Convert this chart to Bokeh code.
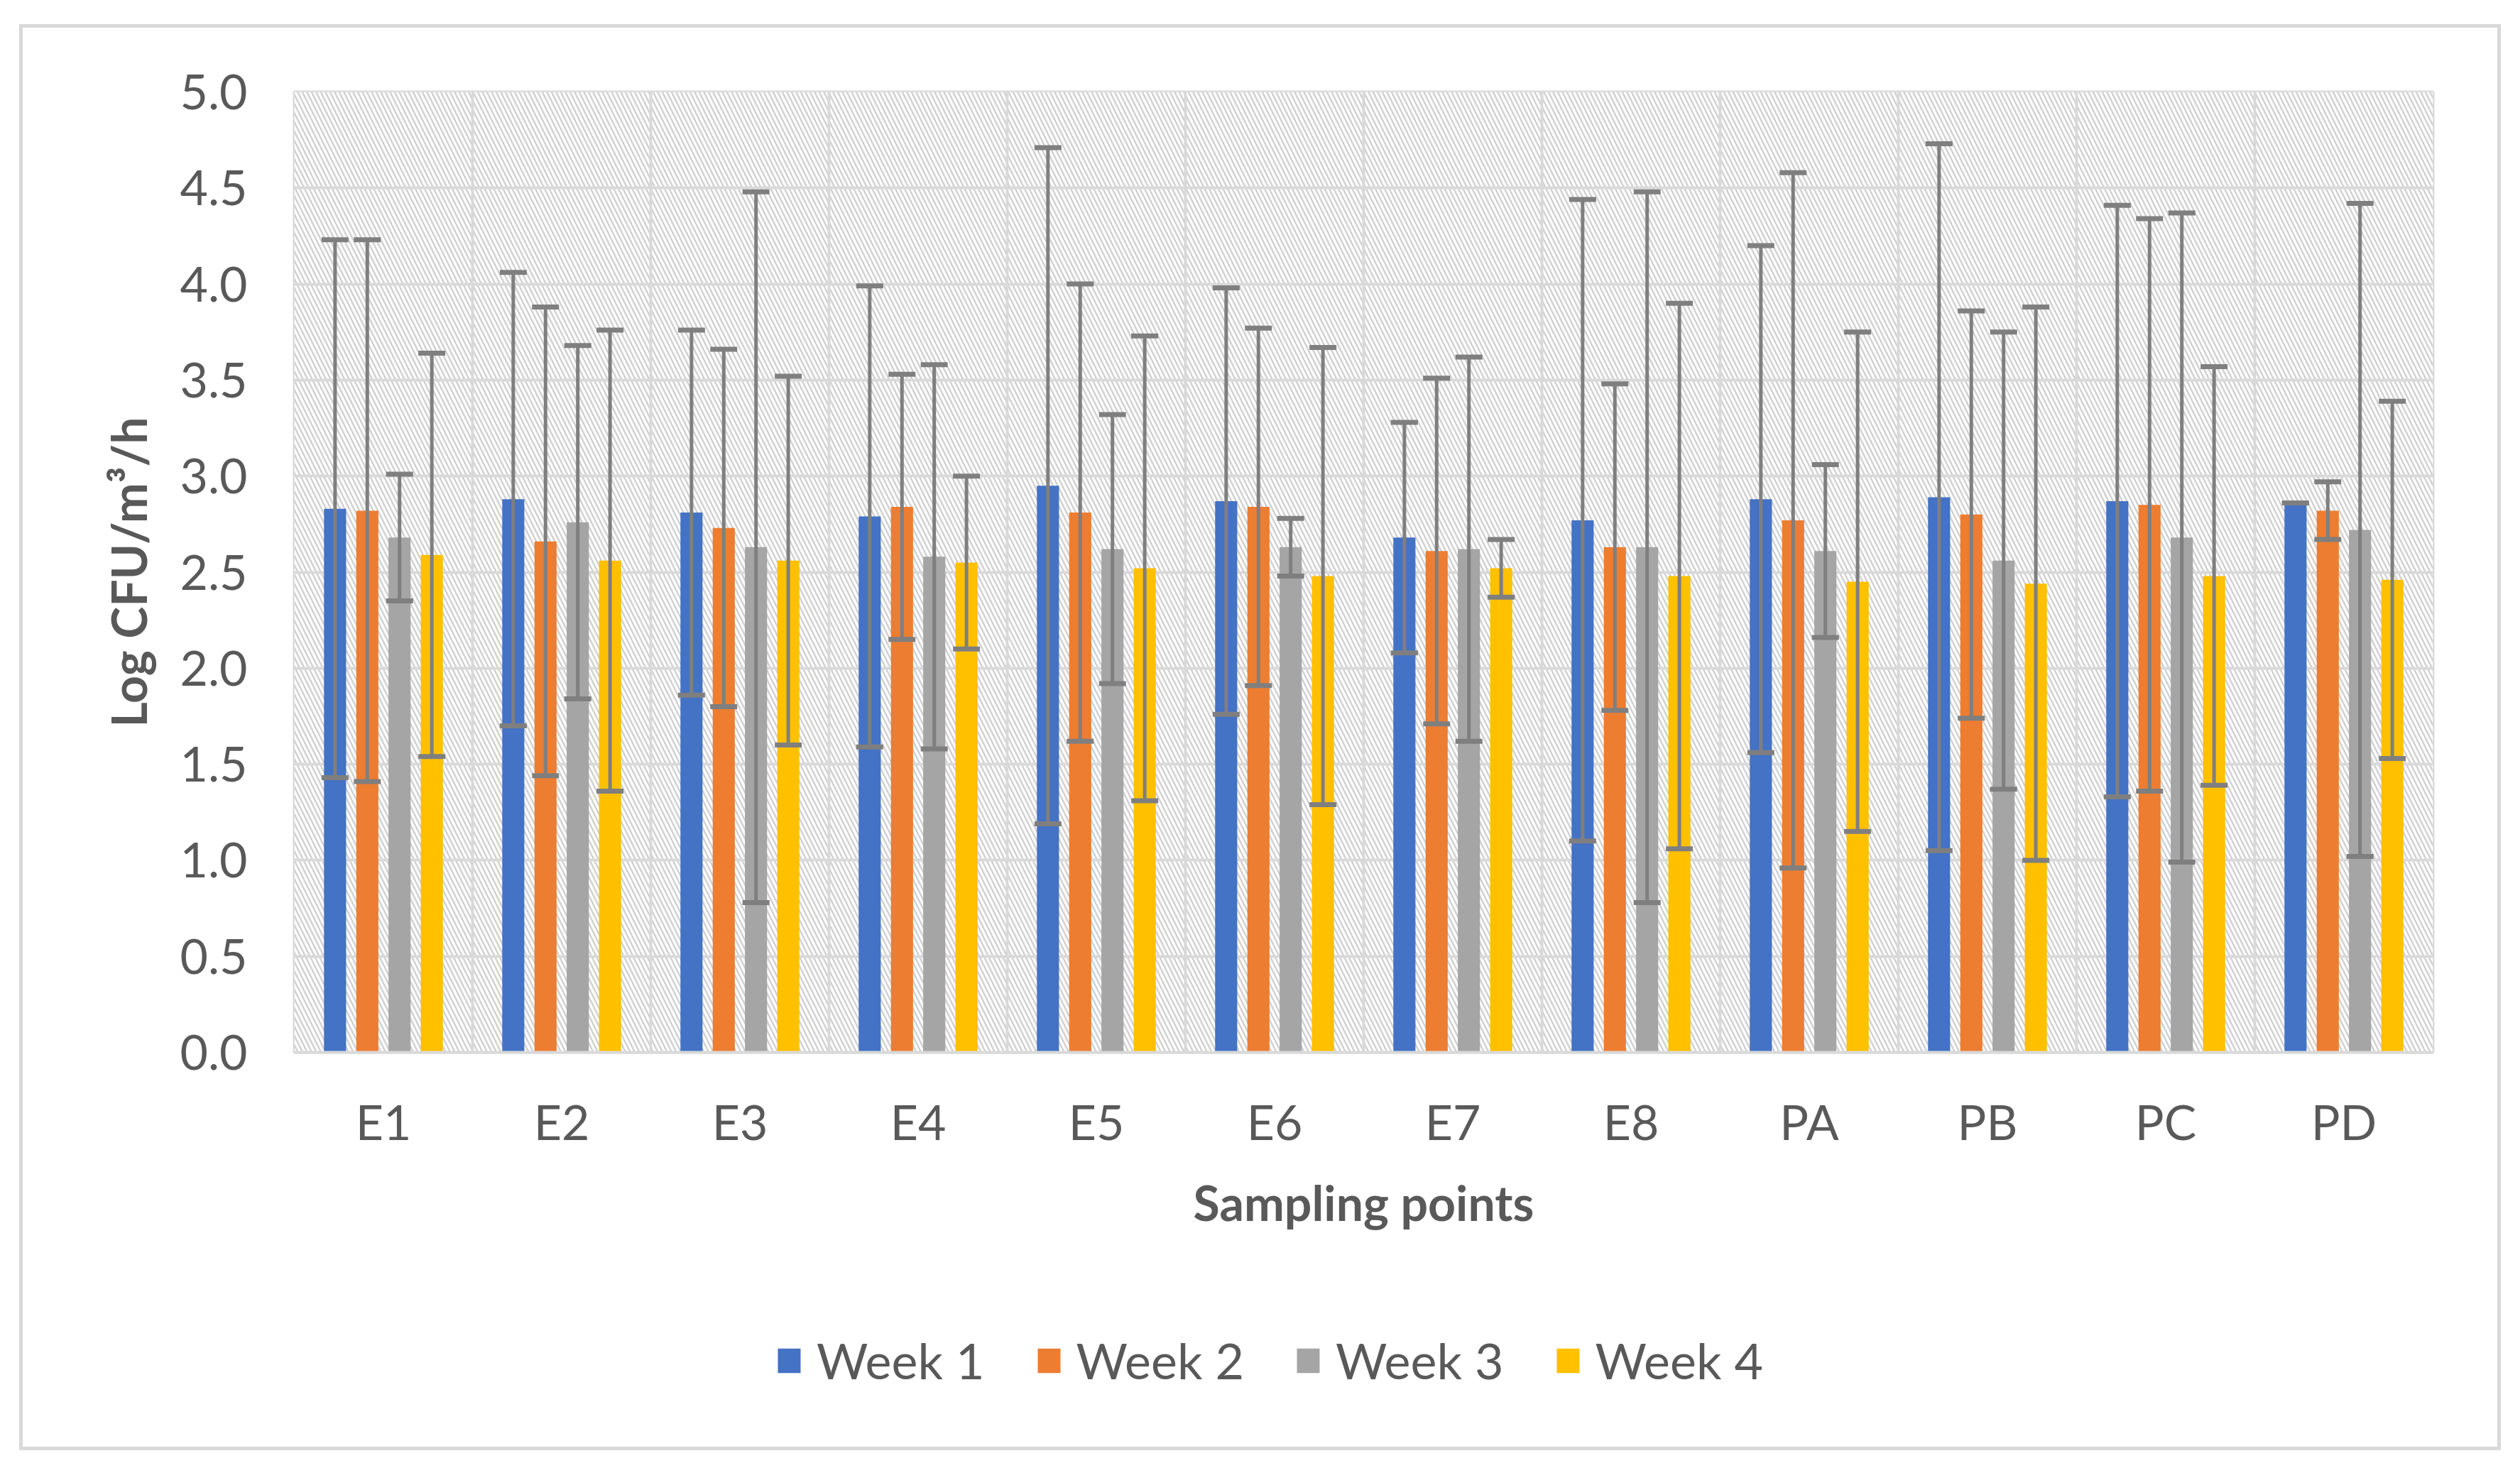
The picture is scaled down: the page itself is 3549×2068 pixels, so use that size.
from bokeh.plotting import figure
from bokeh.models import (ColumnDataSource, FactorRange, Range1d, FixedTicker,
                          Whisker, TeeHead, BoxAnnotation, CustomJSTickFormatter, Legend)
from bokeh.layouts import column
from bokeh.transform import dodge
from bokeh.embed import file_html
from bokeh.resources import INLINE

# ---------------- data ----------------
sampling_points = ["E1", "E2", "E3", "E4", "E5", "E6", "E7", "E8", "PA", "PB", "PC", "PD"]
series_names = ["Week 1", "Week 2", "Week 3", "Week 4"]

week1_mean = [2.83, 2.88, 2.81, 2.79, 2.95, 2.87, 2.68, 2.77, 2.88, 2.89, 2.87, 2.86]
week1_sd   = [1.40, 1.18, 0.95, 1.20, 1.76, 1.11, 0.60, 1.67, 1.32, 1.84, 1.54, 0.00]

week2_mean = [2.82, 2.66, 2.73, 2.84, 2.81, 2.84, 2.61, 2.63, 2.77, 2.80, 2.85, 2.82]
week2_sd   = [1.41, 1.22, 0.93, 0.69, 1.19, 0.93, 0.90, 0.85, 1.81, 1.06, 1.49, 0.15]

week3_mean = [2.68, 2.76, 2.63, 2.58, 2.62, 2.63, 2.62, 2.63, 2.61, 2.56, 2.68, 2.72]
week3_sd   = [0.33, 0.92, 1.85, 1.00, 0.70, 0.15, 1.00, 1.85, 0.45, 1.19, 1.69, 1.70]

week4_mean = [2.59, 2.56, 2.56, 2.55, 2.52, 2.48, 2.52, 2.48, 2.45, 2.44, 2.48, 2.46]
week4_sd   = [1.05, 1.20, 0.96, 0.45, 1.21, 1.19, 0.15, 1.42, 1.30, 1.44, 1.09, 0.93]

y_ticks = [0.0, 0.5, 1.0, 1.5, 2.0, 2.5, 3.0, 3.5, 4.0, 4.5, 5.0]

# ---------------- style ----------------
colors = ["#4472C4", "#ED7D31", "#A5A5A5", "#FFC000"]
offsets = [-0.2715, -0.0905, 0.0905, 0.2715]
FONT = "Lato"
TXT = "#595959"
GRID = "#d9d9d9"
ERR = "#7f7f7f"

W = 3485
H_MAIN = 1800
H_LEG = 199

p = figure(x_range=FactorRange(*sampling_points), y_range=Range1d(0, 5),
           width=W, height=H_MAIN, output_backend="svg", toolbar_location=None,
           min_border_left=382, min_border_right=91,
           min_border_top=90, min_border_bottom=H_MAIN + 39 - 1482)

p.background_fill_color = "white"
p.border_fill_color = "white"
p.outline_line_color = GRID
p.outline_line_width = 4

# hatched plot-area background
hatch = BoxAnnotation(fill_color="white", fill_alpha=1.0, line_alpha=0,
                      hatch_pattern="\\", hatch_color="#cccccc", hatch_alpha=0.9,
                      hatch_scale=13, hatch_weight=2.5, level="image")
p.add_layout(hatch)

# grids
p.ygrid.ticker = FixedTicker(ticks=y_ticks)
p.ygrid.grid_line_color = GRID
p.ygrid.grid_line_width = 4
p.xgrid.ticker = FixedTicker(ticks=list(range(1, len(sampling_points))))
p.xgrid.grid_line_color = GRID
p.xgrid.grid_line_width = 4

# legend strip (separate plot, same width, no axes); its y range keeps the proxy bars out of view
pl = figure(x_range=p.x_range, y_range=Range1d(100, 101),
            width=W, height=H_LEG, output_backend="svg", toolbar_location=None,
            x_axis_location=None, y_axis_location=None,
            min_border_left=0, min_border_right=0, min_border_top=0, min_border_bottom=0)
pl.outline_line_color = None
pl.grid.visible = False
pl.background_fill_color = "white"
pl.border_fill_color = "white"
legend_items = []

# bars + error bars
means = [week1_mean, week2_mean, week3_mean, week4_mean]
sds = [week1_sd, week2_sd, week3_sd, week4_sd]
for name, m, s, c, off in zip(series_names, means, sds, colors, offsets):
    src = ColumnDataSource(dict(
        cat=sampling_points, mean=m,
        upper=[a + b for a, b in zip(m, s)],
        lower=[a - b for a, b in zip(m, s)],
    ))
    p.vbar(x=dodge("cat", off, range=p.x_range), top="mean", width=0.124,
           source=src, fill_color=c, line_color=None)
    wh = Whisker(base=dodge("cat", off, range=p.x_range), upper="upper", lower="lower",
                 source=src, line_color=ERR, line_width=5, level="annotation",
                 upper_head=TeeHead(size=38, line_color=ERR, line_width=7),
                 lower_head=TeeHead(size=38, line_color=ERR, line_width=7))
    p.add_layout(wh)
    proxy = pl.vbar(x=dodge("cat", off, range=p.x_range), top="mean", width=0.124,
                    source=src, fill_color=c, line_color=None)
    legend_items.append((name, [proxy]))

# axes
p.yaxis.ticker = FixedTicker(ticks=y_ticks)
p.yaxis.formatter = CustomJSTickFormatter(code="return tick.toFixed(1);")
p.yaxis.axis_line_color = None
p.yaxis.major_tick_line_color = None
p.yaxis.minor_tick_line_color = None
p.yaxis.major_tick_out = 0
p.yaxis.major_label_standoff = 66
p.yaxis.major_label_text_font = FONT
p.yaxis.major_label_text_font_size = "68px"
p.yaxis.major_label_text_color = TXT
p.yaxis.axis_label = "Log CFU/m\u00b3/h"
p.yaxis.axis_label_text_font = FONT
p.yaxis.axis_label_text_font_size = "68px"
p.yaxis.axis_label_text_font_style = "bold"
p.yaxis.axis_label_text_color = TXT
p.yaxis.axis_label_standoff = 30

p.xaxis.axis_line_color = GRID
p.xaxis.axis_line_width = 4
p.xaxis.major_tick_line_color = None
p.xaxis.minor_tick_line_color = None
p.xaxis.major_tick_out = 0
p.xaxis.major_label_standoff = 56
p.xaxis.major_label_text_font = FONT
p.xaxis.major_label_text_font_size = "68px"
p.xaxis.major_label_text_color = TXT
p.xaxis.axis_label = "Sampling points"
p.xaxis.axis_label_text_font = FONT
p.xaxis.axis_label_text_font_size = "68px"
p.xaxis.axis_label_text_font_style = "bold"
p.xaxis.axis_label_text_color = TXT
p.xaxis.axis_label_standoff = 30

lg = Legend(items=legend_items, orientation="horizontal", location=(677, 80),
            border_line_alpha=0, background_fill_alpha=0, padding=0, margin=0,
            spacing=70, glyph_width=40, glyph_height=43, label_standoff=19,
            label_text_font=FONT, label_text_font_size="70px", label_text_color=TXT)
pl.add_layout(lg)

layout = column(p, pl, spacing=0, margin=(34, 0, 0, 27),
                styles={"border": "5px solid #d9d9d9", "background": "white"})

open("out.html", "w").write(file_html(layout, INLINE))
